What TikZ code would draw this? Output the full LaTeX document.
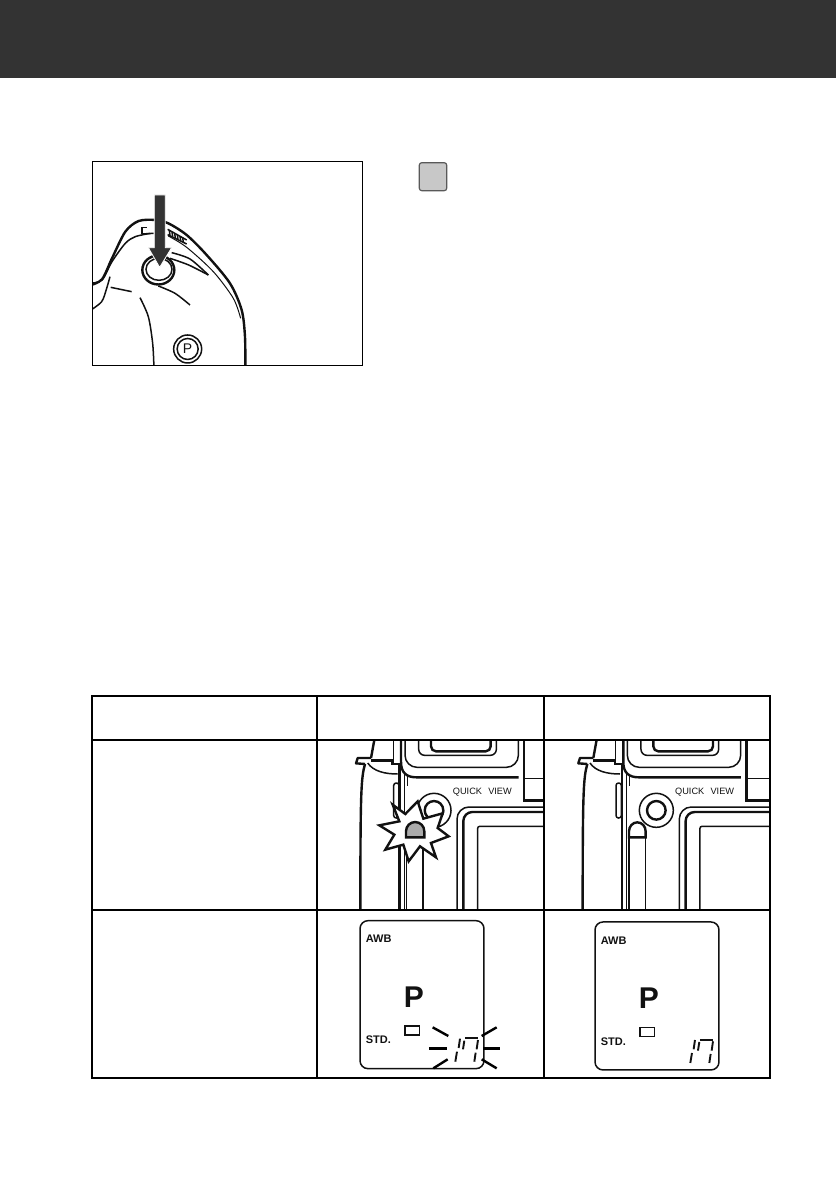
\documentclass[tikz,border=0pt]{standalone}
\usepackage{fontspec}
\setmainfont{Liberation Sans}
\definecolor{banddark}{HTML}{333333}
\definecolor{inkdark}{HTML}{111111}
\definecolor{keygrey}{HTML}{C8C8C8}
\definecolor{lampgrey}{HTML}{ABABAB}
\tikzset{
    thinline/.style={draw=inkdark,line width=1pt},
    midline/.style={draw=inkdark,line width=1.5pt},
    heavyline/.style={draw=inkdark,line width=2.4pt},
    gridline/.style={draw=black,line width=1.7pt},
    segline/.style={draw=inkdark,line width=1.9pt},
    rayline/.style={draw=black,line width=2.4pt},
    lcdlabel/.style={font=\bfseries\fontsize{11}{11}\selectfont,inner sep=0pt,anchor=west,text=inkdark},
    viewlabel/.style={font=\fontsize{9.2}{10}\selectfont,inner sep=0pt,anchor=west,text=inkdark}
}
% camera back, in units of a third of a pixel
\newcommand{\cambackdrawing}[1]{
    \draw[heavyline] (158,5) -- (148,60);
    \draw[heavyline,line join=round] (148,60) -- (108,60) -- (103,76) -- (130,78);
    \draw[heavyline] (130,78) .. controls (118,120) and (116,160) .. (116,520);
    \draw[midline] (138,75) .. controls (155,100) and (190,108) .. (228,108);
    \draw[heavyline] (148,68) -- (213,68) -- (213,78) -- (234,78) -- (234,520);
    \draw[midline] (248,108) -- (248,520);
    \draw[midline] (215,5) -- (215,68);
    % eyepiece
    \draw[heavyline] (238,5) -- (238,72) .. controls (238,105) and (255,118) .. (285,118) -- (591,118);
    \draw[midline,rounded corners=12pt] (250,5) -- (250,88) -- (590,88) -- (590,5);
    \draw[midline,rounded corners=6pt] (291,5) -- (291,52) -- (524,52) -- (524,5);
    \draw[heavyline,rounded corners=5pt] (328,5) -- (328,40) -- (507,40) -- (507,5);
    \draw[thinline] (256,110) -- (256,145);
    \draw[heavyline] (607,5) -- (607,187) -- (690,187);
    \draw[midline] (607,122) -- (690,122);
    \node[viewlabel] (#1view) at (393,163) {QUICK\hspace{0.4em} VIEW};
    % button
    \draw[midline] (337,217) circle (17pt);
    \draw[heavyline] (337,217) circle (9.3pt);
    % monitor
    \draw[midline,rounded corners=12pt] (406,520) -- (406,207) -- (690,207);
    \draw[heavyline,rounded corners=9pt] (425,520) -- (425,222) -- (690,222);
    \draw[midline,rounded corners=2pt] (468,520) -- (468,265) -- (690,265);
    \draw[midline,rounded corners=2.5pt] (216,135) rectangle (232,240);
    % lamp channel
    \draw[midline] (255,300) -- (255,520);
    \draw[midline] (304,300) -- (304,520);
}
% status panel, same units
\newcommand{\lcdpanel}[1]{
    \draw[midline,rounded corners=8pt] (45,32) rectangle (417,476);
    \node[lcdlabel] (#1awb) at (62,87) {AWB};
    \node[lcdlabel] (#1std) at (62,390) {STD.};
    \node[inner sep=0pt,font=\bfseries\fontsize{30}{30}\selectfont,text=inkdark] (#1mode) at (207,262) {P};
    \draw[midline] (180,348) rectangle (223,375);
    \draw[segline] (345,386) -- (341,414);
    \draw[segline] (336,425) -- (331,455);
    \draw[segline] (360,385) -- (400,385);
    \draw[segline] (358,392) -- (354,418);
    \draw[segline] (399,390) -- (395,418);
    \draw[segline] (392,428) -- (388,455);
}
\begin{document}
\begin{tikzpicture}[x=1pt,y=-1pt]
    \useasboundingbox (0,0) rectangle (836,1177);
    \fill[banddark] (0,0) rectangle (836,78);

    % top picture
    \begin{scope}
        \clip (92,162) rectangle (362,365);
        \begin{scope}[shift={(90,160)},x=0.3333pt,y=-0.3333pt]
            \draw[heavyline] plot[smooth] coordinates {(0,376) (36,358) (66,295) (106,215) (146,183) (196,180) (235,190) (290,225) (350,285) (420,370) (455,450) (465,530) (466,625)};
            \draw[midline] plot[smooth] coordinates {(0,370) (36,360) (66,305) (106,250) (136,230) (181,220)};
            \draw[thinline] plot[smooth] coordinates {(235,228) (290,262) (370,335) (430,415) (452,475)};
            \draw[midline] plot[smooth] coordinates {(0,452) (35,425) (50,385) (60,350)};
            \draw[midline] (62,382) -- (125,395);
            \draw[midline] plot[smooth] coordinates {(150,413) (175,470) (188,550) (192,625)};
            \draw[midline] plot[smooth] coordinates {(205,378) (255,400) (300,435)};
            \draw[midline] plot[smooth] coordinates {(245,278) (300,297) (355,345)};
            \draw[midline] plot[smooth] coordinates {(240,295) (296,315) (355,345)};
            % mode marks
            \draw[midline] (156,222) -- (156,202) -- (171,202);
            \draw[midline] (156,222) -- (191,220);
            \draw[midline] (233,208) -- (290,240);
            \draw[midline] (233,224) -- (290,252);
            \foreach \x in {238,246,...,278} {
                \draw[midline] (\x,{211+(\x-238)*0.55}) -- (\x+2,{226+(\x-238)*0.5});
            }
            % shutter release
            \draw[heavyline] (205,330) ellipse (16pt and 14.5pt);
            \draw[midline] (207,328) ellipse (13pt and 11pt);
            \draw[midline] (293,567) circle (14pt);
            \draw[midline] (293,567) circle (10.5pt);
            \node[inner sep=0pt,font=\fontsize{14}{14}\selectfont,text=inkdark] (modekey) at (293,567) {P};
            \fill[banddark,draw=white,line width=0.8pt] (193,105) -- (226,105) -- (226,263) -- (245,263) -- (209,322) -- (175,263) -- (193,263) -- cycle;
        \end{scope}
    \end{scope}
    \draw[gridline,line width=1pt] (92,162) rectangle (362,365);

    % grey key
    \draw[fill=keygrey,draw=black!65,line width=1.2pt,rounded corners=2.5pt] (419.3,162.7) rectangle (446.7,190.7);

    % blinking column
    \begin{scope}
        \clip (317,740) rectangle (544,910);
        \begin{scope}[shift={(321.7,738)},x=0.3333pt,y=-0.3333pt]
            \cambackdrawing{left}
        \end{scope}
        \begin{scope}[shift={(316,738)},x=0.3333pt,y=-0.3333pt]
            \draw[heavyline,fill=white,line join=miter] (230,200) -- (268,228) -- (305,190) -- (322,242) -- (380,226) -- (365,270) -- (398,295) -- (345,315) -- (360,358) -- (312,325) -- (278,370) -- (262,320) -- (208,335) -- (235,290) -- (190,262) -- (250,250) -- cycle;
            \draw[heavyline,fill=lampgrey] (270,298) -- (270,280) arc (180:360:27.5 and 28) -- (325,298) -- cycle;
        \end{scope}
    \end{scope}

    % steady column
    \begin{scope}
        \clip (544,740) rectangle (770,910);
        \begin{scope}[shift={(544,738)},x=0.3333pt,y=-0.3333pt]
            \cambackdrawing{right}
            \draw[heavyline,fill=white] (255,298) -- (255,280) arc (180:360:25 and 27) -- (305,298) -- cycle;
        \end{scope}
    \end{scope}

    % status panels
    \begin{scope}[shift={(345,910)},x=0.3333pt,y=-0.3333pt]
        \lcdpanel{left}
        \draw[rayline] (263,352) -- (310,378);
        \draw[rayline] (252,416) -- (305,416);
        \draw[rayline] (265,475) -- (308,448);
        \draw[rayline] (410,378) -- (455,352);
        \draw[rayline] (415,416) -- (465,416);
        \draw[rayline] (410,448) -- (455,475);
    \end{scope}
    \begin{scope}[shift={(580,911.3)},x=0.3333pt,y=-0.3333pt]
        \lcdpanel{right}
    \end{scope}

    % table
    \draw[gridline] (92,696) rectangle (770,1078);
    \draw[gridline] (92,740) -- (770,740);
    \draw[gridline] (92,910) -- (770,910);
    \foreach \x in {317,544} {
        \draw[gridline] (\x,696) -- (\x,1078);
    }
\end{tikzpicture}
\end{document}
